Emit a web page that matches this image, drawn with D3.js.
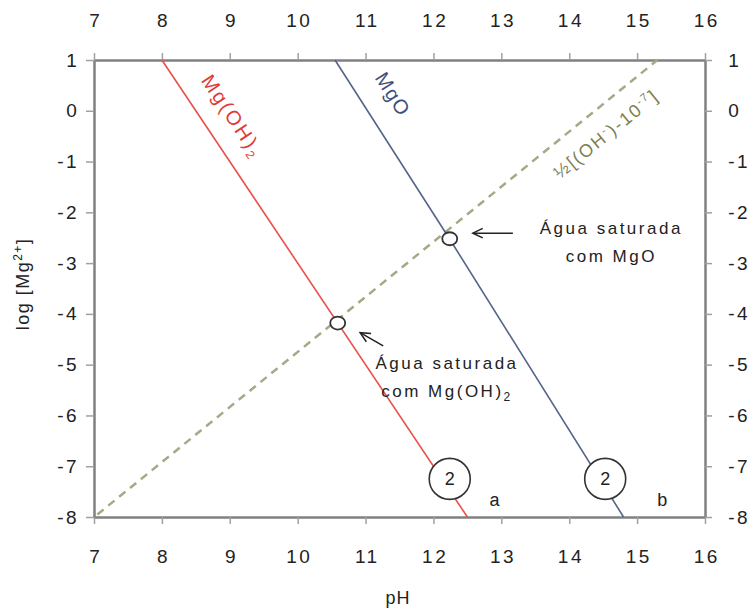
<!DOCTYPE html>
<html><head><meta charset="utf-8">
<script src="https://cdn.jsdelivr.net/npm/d3@7/dist/d3.min.js"></script>
<style>
body{margin:0;background:#fff;}
text{font-family:"Liberation Sans",Arial,sans-serif;}
</style></head>
<body><svg id="c" width="753" height="610"></svg>
<script>
// ---- data ----
const xTicks = [7,8,9,10,11,12,13,14,15,16];
const yTicks = [1,0,-1,-2,-3,-4,-5,-6,-7,-8];
const mgOH2_pH = [8, 12.5];
const mgOH2_log = [1, -8];
const mgO_pH = [10.55, 12.25, 14.8];
const mgO_log = [1, -2.55, -8];
const water_pH = [7.05, 15.3];
const water_log = [-7.95, 1];
const satPoints_pH = [10.59, 12.24];
const satPoints_log = [-4.18, -2.52];
const bigCircle_pH = [12.24, 14.53];
const bigCircle_log = [-7.25, -7.25];
const bigCircle_text = ["2", "2"];
const caseLabels = ["a", "b"];
const caseLabel_pH = [12.9, 15.37];
const caseLabel_log = [-7.66, -7.66];

const svg = d3.select("#c");
const x = d3.scaleLinear().domain([7,16]).range([94,705]);
const y = d3.scaleLinear().domain([-8,1]).range([517,60]);

const axisColor = "#808080";
function styleAxis(g){
  g.select(".domain").attr("stroke", axisColor).attr("stroke-width", 2.5);
  g.selectAll(".tick line").attr("stroke", "#a0a0a0").attr("stroke-width", 1.5);
  g.selectAll(".tick text").attr("fill", "#222").attr("font-size", 19)
    .style("letter-spacing", "2.5px").attr("font-family", '"Liberation Sans",Arial,sans-serif');
}
const fmt = d => d < 0 ? "-" + Math.abs(d) : String(d);

svg.append("g").attr("transform", "translate(0,517)")
  .call(d3.axisBottom(x).tickValues(xTicks).tickFormat(fmt).tickSize(7).tickSizeOuter(0).tickPadding(26))
  .call(styleAxis);
svg.append("g").attr("transform", "translate(0,60)")
  .call(d3.axisTop(x).tickValues(xTicks).tickFormat(fmt).tickSize(7).tickSizeOuter(0).tickPadding(26))
  .call(styleAxis);
svg.append("g").attr("transform", "translate(94,0)")
  .call(d3.axisLeft(y).tickValues(yTicks).tickFormat(fmt).tickSize(8).tickSizeOuter(0).tickPadding(8))
  .call(styleAxis);
svg.append("g").attr("transform", "translate(705,0)")
  .call(d3.axisRight(y).tickValues(yTicks).tickFormat(fmt).tickSize(7).tickSizeOuter(0).tickPadding(15))
  .call(styleAxis);
svg.selectAll(".tick text").each(function(){ d3.select(this).attr("x", +d3.select(this).attr("x") + 1.2); });

// axis titles
svg.append("text").attr("x", 398).attr("y", 604).attr("text-anchor","middle")
  .attr("font-size", 18).attr("fill","#222").style("letter-spacing","1px").text("pH");
const yt = svg.append("text").attr("transform","translate(29,284) rotate(-90)").attr("text-anchor","middle")
  .attr("font-size", 18).attr("fill","#222").style("letter-spacing","1.5px");
yt.append("tspan").text("log [Mg");
yt.append("tspan").attr("font-size", 12).attr("dy", -7).text("2+");
yt.append("tspan").attr("dy", 7).text("]");

const line = d3.line().x(d => x(d[0])).y(d => y(d[1]));

// lines
svg.append("path").datum(water_pH.map((p,i)=>[p, water_log[i]])).attr("d", line)
  .attr("fill","none").attr("stroke","#a3aa85").attr("stroke-width",2.5).attr("stroke-dasharray","8,6");
svg.append("path").datum(mgOH2_pH.map((p,i)=>[p, mgOH2_log[i]])).attr("d", line)
  .attr("fill","none").attr("stroke","#e8504a").attr("stroke-width",1.6);
svg.append("path").datum(mgO_pH.map((p,i)=>[p, mgO_log[i]])).attr("d", line)
  .attr("fill","none").attr("stroke","#56648c").attr("stroke-width",1.6);

// saturation points
svg.selectAll(".sat").data(satPoints_pH).enter().append("ellipse")
  .attr("cx", (d)=>x(d)).attr("cy", (d,i)=>y(satPoints_log[i])).attr("rx", 7.5).attr("ry", 6.5)
  .attr("fill","#fff").attr("stroke","#333").attr("stroke-width",1.8);

// big circles
bigCircle_pH.forEach((p,i)=>{
  svg.append("circle").attr("cx", x(p)).attr("cy", y(bigCircle_log[i])).attr("r", 20.5)
    .attr("fill","#fff").attr("stroke","#333").attr("stroke-width",1.6);
  svg.append("text").attr("x", x(p)).attr("y", y(bigCircle_log[i]) + 6).attr("text-anchor","middle")
    .attr("font-size", 18).attr("fill","#222").text(bigCircle_text[i]);
});
caseLabels.forEach((t,i)=>{
  svg.append("text").attr("x", x(caseLabel_pH[i])).attr("y", y(caseLabel_log[i]) + 6).attr("text-anchor","middle")
    .attr("font-size", 18).attr("fill","#222").text(t);
});

// rotated line labels
function angleOf(p0,l0,p1,l1){ return Math.atan2(y(l1)-y(l0), x(p1)-x(p0))*180/Math.PI; }
const aRed = angleOf(8,1,12.5,-8);
const tRed = svg.append("text").attr("transform",`translate(227,120) rotate(${aRed})`)
  .attr("text-anchor","middle").attr("font-size",20).attr("fill","#e23a35").style("letter-spacing","2.5px");
tRed.append("tspan").text("Mg(OH)");
tRed.append("tspan").attr("font-size",12).attr("dy",4).text("2");

const aBlue = angleOf(10.55,1,14.8,-8);
svg.append("text").attr("transform",`translate(387,98) rotate(${aBlue})`)
  .attr("text-anchor","middle").attr("font-size",20).attr("fill","#3f4f7c").style("letter-spacing","1.5px").text("MgO");

const aGreen = angleOf(7.05,-7.95,15.3,1);
const tG = svg.append("text").attr("transform",`translate(610,139) rotate(${aGreen})`)
  .attr("text-anchor","middle").attr("font-size",18).attr("fill","#7f7f4e").style("letter-spacing","2px");
tG.append("tspan").text("½[(OH");
tG.append("tspan").attr("font-size",11).attr("dy",-7).text("-");
tG.append("tspan").attr("dy",7).text(")-10");
tG.append("tspan").attr("font-size",11).attr("dy",-7).text("-7");
tG.append("tspan").attr("dy",7).text("]");

// arrows
function arrow(tp, tl, hp, hl){
  const x0 = x(tp), y0 = y(tl), x1 = x(hp), y1 = y(hl);
  const a = Math.atan2(y1-y0, x1-x0), L = 11, s = 0.45;
  svg.append("line").attr("x1",x0).attr("y1",y0).attr("x2",x1).attr("y2",y1).attr("stroke","#222").attr("stroke-width",1.5);
  const p = [[x1 - L*Math.cos(a - s), y1 - L*Math.sin(a - s)], [x1,y1], [x1 - L*Math.cos(a + s), y1 - L*Math.sin(a + s)]];
  svg.append("path").attr("d", d3.line()(p)).attr("fill","none").attr("stroke","#222").attr("stroke-width",1.5);
}
arrow(13.17, -2.41, 12.58, -2.41);
arrow(11.26, -4.63, 10.92, -4.37);

// annotations
function annot(pc, l1, l2parts, lineY){
  svg.append("text").attr("x", x(pc)).attr("y", y(lineY)).attr("text-anchor","middle").attr("font-size",17)
    .attr("fill","#222").style("letter-spacing","2.5px").text(l1);
  const t = svg.append("text").attr("x", x(pc)).attr("y", y(lineY) + 28).attr("text-anchor","middle").attr("font-size",17)
    .attr("fill","#222").style("letter-spacing","2.5px");
  l2parts.forEach(pt => { const s = t.append("tspan").text(pt.t); if(pt.sub){ s.attr("font-size",12).attr("dy",4);} });
}
annot(14.62, "Água saturada", [{t:"com MgO"}], -2.42);
annot(12.2, "Água saturada", [{t:"com Mg(OH)"},{t:"2",sub:true}], -5.08);
</script></body></html>
